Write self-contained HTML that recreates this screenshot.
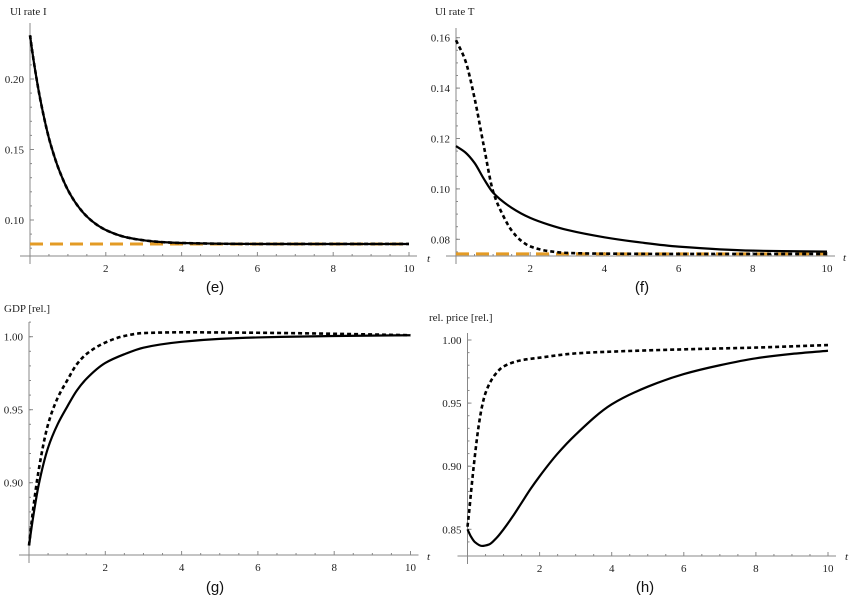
<!DOCTYPE html>
<html><head><meta charset="utf-8"><style>
body{margin:0;background:#fff;width:850px;height:602px;overflow:hidden}
svg text{font-family:"Liberation Serif",serif;font-size:11px;fill:#222}
svg text.cap{font-family:"Liberation Sans",sans-serif;font-size:15px;fill:#111}
</style></head><body>
<svg id="chart" width="850" height="602" viewBox="0 0 850 602" xmlns="http://www.w3.org/2000/svg"></svg>
<script>
// ---- data ----
const tE = [0,0.1,0.25,0.4,0.5,0.6,0.75,1,1.25,1.5,1.75,2,2.5,3,3.5,4,5,6,8,10];
const eSolid = [0.231,0.2124,0.1885,0.1691,0.158,0.1487,0.1367,0.1213,0.1104,0.1025,0.0969,0.0929,0.088,0.0856,0.0843,0.0837,0.0832,0.083,0.083,0.083];
const eDashed = [0.231,0.2124,0.1885,0.1691,0.158,0.1487,0.1367,0.1213,0.1104,0.1025,0.0969,0.0929,0.088,0.0856,0.0843,0.0837,0.0832,0.083,0.083,0.083];
const eRef = 0.083;
const tF = [0,0.25,0.5,0.75,1,1.5,2,2.5,3,4,5,6,8,10];
const fSolid = [0.117,0.1145,0.1103,0.104,0.0985,0.0925,0.0885,0.0858,0.0837,0.0808,0.0787,0.0771,0.0755,0.0751];
const tF2 = [0,0.25,0.5,0.75,1,1.25,1.5,1.75,2,2.5,3,4,6,10];
const fDashed = [0.159,0.151,0.136,0.117,0.099,0.090,0.0835,0.0795,0.0772,0.0753,0.0746,0.0743,0.0742,0.0742];
const fRef = 0.0742;
const tG = [0,0.1,0.25,0.5,0.75,1,1.25,1.5,2,2.5,3,4,5,6,8,10];
const gSolid = [0.857,0.875,0.898,0.924,0.940,0.952,0.963,0.971,0.982,0.988,0.9925,0.9965,0.9985,0.9995,1.0005,1.001];
const tG2 = [0,0.1,0.25,0.5,0.75,1,1.25,1.5,2,2.5,3,4,6,8,10];
const gDashed = [0.857,0.880,0.908,0.940,0.958,0.970,0.981,0.988,0.996,1.0005,1.0025,1.003,1.0027,1.002,1.001];
const tH = [0,0.1,0.2,0.4,0.6,0.8,1,1.25,1.5,1.75,2,2.5,3,4,5,6,7,8,9,10];
const hSolid = [0.85,0.844,0.840,0.8368,0.838,0.843,0.850,0.860,0.871,0.882,0.892,0.910,0.925,0.949,0.963,0.973,0.980,0.9855,0.989,0.9915];
const tH2 = [0,0.05,0.1,0.2,0.3,0.4,0.5,0.75,1,1.5,2,3,4,6,8,10];
const hDashed = [0.852,0.865,0.880,0.907,0.930,0.947,0.958,0.972,0.979,0.984,0.986,0.9894,0.9908,0.9926,0.994,0.996];
const xTicks = [2,4,6,8,10];
const eTicks = [0.10,0.15,0.20];
const fTicks = [0.08,0.10,0.12,0.14,0.16];
const gTicks = [0.90,0.95,1.00];
const hTicks = [0.85,0.90,0.95,1.00];

const svg = document.getElementById('chart');
const NS = 'http://www.w3.org/2000/svg';
function mk(tag, attrs, parent){const e=document.createElementNS(NS,tag);for(const k in attrs)e.setAttribute(k,attrs[k]);(parent||svg).appendChild(e);return e;}

function smoothPath(pts){
  // monotone cubic (Fritsch-Carlson) to avoid overshoot
  const n=pts.length, dx=[], m=[], s=[];
  for(let i=0;i<n-1;i++){dx[i]=pts[i+1][0]-pts[i][0]; s[i]=(pts[i+1][1]-pts[i][1])/dx[i];}
  m[0]=s[0]; m[n-1]=s[n-2];
  for(let i=1;i<n-1;i++){ if(s[i-1]*s[i]<=0) m[i]=0; else { const w1=2*dx[i]+dx[i-1], w2=dx[i]+2*dx[i-1]; m[i]=(w1+w2)/(w1/s[i-1]+w2/s[i]); } }
  let d='M'+pts[0][0].toFixed(2)+','+pts[0][1].toFixed(2);
  for(let i=0;i<n-1;i++){
    const h=dx[i];
    d+=' C'+(pts[i][0]+h/3).toFixed(2)+','+(pts[i][1]+m[i]*h/3).toFixed(2)+' '+(pts[i+1][0]-h/3).toFixed(2)+','+(pts[i+1][1]-m[i+1]*h/3).toFixed(2)+' '+pts[i+1][0].toFixed(2)+','+pts[i+1][1].toFixed(2);
  }
  return d;
}

function panel(cfg){
  const g=mk('g',{});
  
  
  const X=t=>cfg.x0+(cfg.x1-cfg.x0)*t/10;
  const Y=v=>cfg.yA+(cfg.yB-cfg.yA)*(v-cfg.vA)/(cfg.vB-cfg.vA);
  const ax=mk('line',{x1:cfg.x0-10,x2:cfg.x1+8,y1:cfg.axisY,y2:cfg.axisY,stroke:'#888','stroke-width':1},g);
  
  
  const ay=mk('line',{x1:cfg.x0,x2:cfg.x0,y1:cfg.axisY+8,y2:cfg.yTop,stroke:'#888','stroke-width':1},g);
  
  
  for(let t=0.5;t<=10.01;t+=0.5){
    const major=Math.abs(t/2-Math.round(t/2))<1e-6;
    mk('line',{x1:X(t),x2:X(t),y1:cfg.axisY,y2:cfg.axisY-(major?4:2),stroke:'#888','stroke-width':1},g);
  }
  xTicks.forEach(t=>{const l=mk('text',{x:X(t),y:cfg.axisY+16,'text-anchor':'middle'},g);l.textContent=t;
    
    });
  for(let v=cfg.minStart;v<=cfg.yMaxV+1e-9;v+=cfg.minor){
    const y=Y(v); if(y<cfg.yTop||y>cfg.axisY) continue;
    mk('line',{x1:cfg.x0,x2:cfg.x0+2,y1:y,y2:y,stroke:'#888','stroke-width':1},g);
  }
  cfg.ticks.forEach(v=>{const y=Y(v);mk('line',{x1:cfg.x0,x2:cfg.x0+4,y1:y,y2:y,stroke:'#888','stroke-width':1},g);
    const l=mk('text',{x:cfg.x0-6,y:y+4,'text-anchor':'end'},g);l.textContent=v.toFixed(2);
    
    });
  const tl=mk('text',{x:cfg.titleX,y:cfg.titleY},g);tl.textContent=cfg.title;
  
  
  if(cfg.tLabels){cfg.tLabels.forEach(p=>{const l=mk('text',{x:p[0],y:p[1],'font-style':'italic'},g);l.textContent='t';
    
    });}
  const cap=mk('text',{x:cfg.capX,y:cfg.capY,'text-anchor':'middle',class:'cap'},g);cap.textContent=cfg.cap;
  
  
  if(cfg.ref!==undefined){
    const r=mk('line',{x1:X(0),x2:X(10),y1:Y(cfg.ref),y2:Y(cfg.ref),stroke:'#e39b25','stroke-width':3,'stroke-dasharray':'13,7'},g);
    
    
  }
  const s=mk('path',{d:smoothPath(cfg.tS.map((t,i)=>[X(t),Y(cfg.solid[i])])),fill:'none',stroke:'#000','stroke-width':2.2},g);
  
  
  const d=mk('path',{d:smoothPath(cfg.tD.map((t,i)=>[X(t),Y(cfg.dashed[i])])),fill:'none',stroke:'#000','stroke-width':2.6,'stroke-dasharray':'4,3'},g);
  
  
}

panel({name:'panel-e',x0:30,x1:409,axisY:256,yTop:23,yA:220,yB:79,vA:0.10,vB:0.20,ticks:eTicks,minor:0.01,minStart:0.08,yMaxV:0.24,
  title:'Ul  rate  I',titleX:10,titleY:15,cap:'(e)',capX:215,capY:292,ref:eRef,tS:tE,solid:eSolid,tD:tE,dashed:eDashed});
panel({name:'panel-f',x0:456,x1:827,axisY:256,yTop:28,yA:239.3,yB:37.7,vA:0.08,vB:0.16,ticks:fTicks,minor:0.005,minStart:0.075,yMaxV:0.165,
  title:'Ul  rate  T',titleX:435,titleY:15,cap:'(f)',capX:642,capY:292,ref:fRef,tS:tF,solid:fSolid,tD:tF2,dashed:fDashed,
  tLabels:[[427,262],[843,261]]});
panel({name:'panel-g',x0:29,x1:410.5,axisY:555,yTop:322,yA:482.7,yB:336.7,vA:0.90,vB:1.00,ticks:gTicks,minor:0.01,minStart:0.86,yMaxV:1.01,
  title:'GDP  [rel.]',titleX:4,titleY:312,cap:'(g)',capX:215,capY:592,tS:tG,solid:gSolid,tD:tG2,dashed:gDashed});
panel({name:'panel-h',x0:467.5,x1:828,axisY:556,yTop:333,yA:529.3,yB:340,vA:0.85,vB:1.00,ticks:hTicks,minor:0.01,minStart:0.84,yMaxV:1.005,
  title:'rel. price  [rel.]',titleX:429,titleY:321,cap:'(h)',capX:645,capY:592,tS:tH,solid:hSolid,tD:tH2,dashed:hDashed,
  tLabels:[[427,560],[845,560]]});
</script>
</body></html>
